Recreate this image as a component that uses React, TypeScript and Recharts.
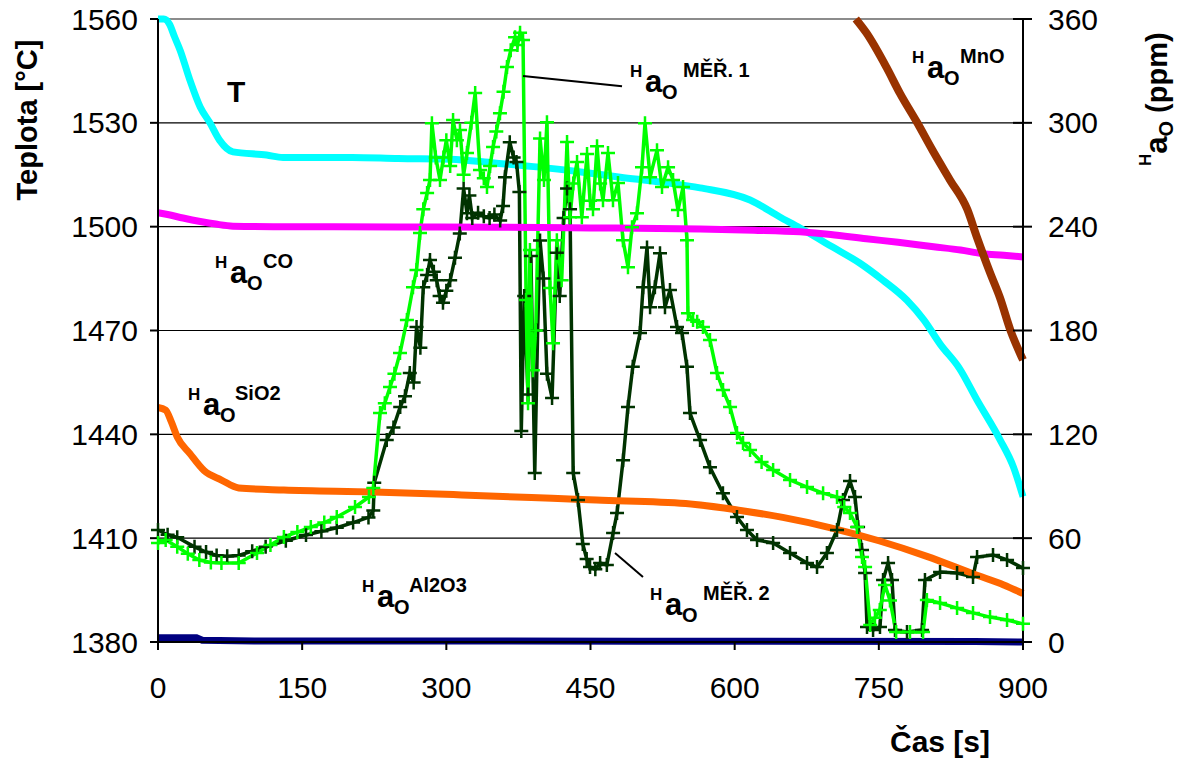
import React from 'react';
import { LineChart, Line, XAxis, YAxis, CartesianGrid, ReferenceLine } from 'recharts';

const FONT = '"Liberation Sans", Arial, Helvetica, sans-serif';

// time axis [s] and tick values
const timeTicks = [0, 150, 300, 450, 600, 750, 900];
const tempTicks = [1380, 1410, 1440, 1470, 1500, 1530, 1560];
const ppmTicks = [0, 60, 120, 180, 240, 300, 360];

// temperature T [°C] vs time [s]
const tempT: [number, number][] = [
  [0, 1560], [6, 1560], [12, 1558.5], [17, 1555], [23, 1551], [33, 1542.5], [44, 1534.5], [54, 1530],
  [64, 1525], [78, 1521.6], [113, 1520.7], [130, 1520], [165, 1520], [202, 1520], [250, 1519.7],
  [304, 1519.5], [350, 1518.4], [397, 1517.2], [440, 1515.8], [481, 1514.3], [525, 1512.8],
  [564, 1511.2], [616, 1507.7], [647, 1502.8], [668, 1499.6], [702, 1494.1], [730, 1489.5],
  [754, 1484.6], [779, 1478.8], [797, 1473], [814, 1466], [834, 1459], [852, 1450], [876, 1438.5],
  [890, 1430.6], [900, 1422],
];

// equilibrium oxygen activity [ppm] for the individual reactions
const aoCO: [number, number][] = [
  [0, 248], [10, 247], [26, 245], [44, 243], [60, 241.5], [78, 240.3], [120, 240], [165, 240],
  [250, 239.8], [350, 239.7], [450, 239.3], [564, 238.7], [620, 238], [668, 237], [700, 235.5],
  [737, 233], [770, 231], [807, 228.4], [835, 226.5], [858, 224.4], [880, 223.5], [900, 222.5],
];

const aoSiO2: [number, number][] = [
  [0, 135.5], [8, 134], [14, 127], [20, 118.5], [33, 109], [48, 99], [66, 93.6], [84, 89],
  [131, 87.8], [224, 86.7], [316, 85], [410, 83], [456, 82], [549, 80], [606, 76], [650, 72],
  [700, 66], [750, 58.5], [800, 49.5], [850, 39], [880, 33], [900, 28],
];

const aoAl2O3: [number, number][] = [
  [0, 2.5], [40, 2.5], [46, 1], [100, 0.6], [500, 0.5], [850, 0.3], [900, 0],
];

const aoMnO: [number, number][] = [
  [726, 360], [737, 352], [758, 332], [772, 317], [790, 300], [806, 284], [824, 267], [842, 250],
  [852, 234], [866, 213], [876, 199], [887, 180], [900, 163],
];

// measured oxygen activity, probe 1
const aoMer1: [number, number][] = [
  [0, 57.2], [8, 59], [20, 55], [31, 51], [43, 47.4], [55, 46], [66, 45.6], [84, 45.6], [103, 51.4],
  [117, 56], [131, 60.7], [145, 63.5], [159, 66.4], [173, 69], [186, 72.2], [205, 78], [219.5, 83.8],
  [224, 89], [231, 132.3], [236, 138], [241.4, 147.3], [246, 155], [251.8, 167], [259, 186],
  [265.3, 205], [269, 215], [272.6, 236.3], [276, 250], [280, 259.4], [283, 267], [285, 299.8],
  [289, 280], [293.4, 267], [297, 280], [300, 290], [304, 275], [307, 301.6], [311, 290],
  [314.2, 295.8], [318, 270], [321.5, 282.5], [326, 300], [330, 317.2], [335, 272.7], [339, 268],
  [342.3, 262.9], [345.5, 275], [348.6, 286], [352, 295], [355.8, 305.6], [359.5, 318], [363.1, 332.2],
  [367, 342], [371.5, 349.5], [374, 345], [376.7, 352], [379.8, 347.8], [383, 197.6], [385, 138],
  [387, 226.5], [390, 157], [393, 180], [397.5, 291], [401.6, 267], [404.7, 300.4], [407.9, 204.5],
  [411, 172.7], [415, 232.2], [420, 209], [425.6, 288.9], [428.7, 245.5], [432, 265], [436, 277.3],
  [441, 245.5], [446.4, 282], [449.5, 255], [452.6, 250], [456.8, 286.5], [460, 265], [463, 255.3],
  [468.2, 282.5], [473.4, 255.3], [478.6, 265.2], [483.8, 232.2], [489, 216.6], [493.2, 239.7],
  [498.4, 247.8], [503.6, 274.4], [506.7, 299.8], [512, 268.6], [519.2, 284.2], [524.4, 262.9],
  [530.7, 274.4], [535.9, 266.9], [541, 249.6], [546.3, 262.9], [550.4, 232.2], [551.4, 190],
  [556.7, 186], [561, 185], [567, 182], [574.3, 174.5], [581.6, 155.4], [587.9, 145.6],
  [595.2, 135.8], [602.4, 120.7], [608.7, 115], [616, 111], [628, 104], [640, 99.4], [657.6, 93.6],
  [675.3, 89.5], [692, 86], [706.5, 83.8], [714, 78], [720, 74.5], [727.3, 66.4], [732.5, 49.1],
  [735.7, 43.3], [741, 9.8], [746, 14], [751, 18.5], [756.4, 33], [761.6, 24], [768, 5.8],
  [782.4, 5.8], [796, 5.8], [800, 24.3], [813.7, 22.5], [831.4, 19.6], [848, 16.8], [865.7, 14.4],
  [883.4, 12.7], [900, 10.5],
];

// measured oxygen activity, probe 2
const aoMer2: [number, number][] = [
  [0, 64.7], [10, 62], [20, 60.5], [38, 55], [50, 52], [61, 50], [72, 49.5], [84, 50], [98, 52.5],
  [112, 55], [133, 58.5], [154, 61.8], [170, 64], [186, 66], [203, 69], [219, 72], [224, 76],
  [225, 92], [238, 116.7], [245, 124], [252, 135.8], [257, 142], [262, 155.4], [266, 150], [269, 182],
  [273, 170], [276, 205], [280, 212], [283, 220.7], [287, 214], [290, 209], [293, 200], [296.5, 196],
  [300, 203], [304, 209], [309, 222], [314, 236], [318, 262], [321.5, 247.8], [324, 258], [327, 245],
  [333, 248], [339, 246], [345, 245], [350, 247], [356, 243.5], [359, 252], [361, 268.6],
  [366, 288.8], [370, 280], [373, 277.3], [376, 260], [378, 121.9], [381, 200], [385, 143],
  [388, 223], [392, 97.6], [395, 180], [397.5, 232], [401, 210], [404.7, 155], [410, 141], [415, 225],
  [418, 200], [422, 245], [425.6, 262], [428.7, 250], [432, 97.6], [437, 82], [442, 56.6], [446, 48],
  [449.5, 43.3], [455, 42], [460, 45.6], [467, 44.5], [473.5, 63], [477.6, 74.5], [483.9, 105],
  [489, 135.8], [494, 159], [501.5, 178.5], [504.7, 205], [508.8, 228], [512, 193.5], [517, 205],
  [522.3, 224.7], [527.5, 193.5], [532.7, 203.4], [540, 182], [545.2, 178.5], [550.4, 159],
  [553.5, 132.3], [564, 116.7], [574.3, 101], [587.8, 86], [602.4, 72.2], [612.8, 64.7],
  [623.3, 58.9], [640, 57.2], [657.6, 51.4], [675.3, 45.6], [685.7, 43.3], [696, 51.4],
  [706.5, 64.7], [712.7, 82], [720, 93], [725.2, 83.8], [728.4, 66.4], [732.5, 53.1], [735.7, 39.9],
  [737.7, 8.7], [744, 6.9], [751.2, 8.7], [754.4, 35.8], [759.6, 45.6], [763.7, 35.8], [766.8, 6.9],
  [779.3, 5.8], [795, 6.9], [798, 35.8], [813.7, 40.4], [831.4, 39.9], [848, 37.6], [852.2, 49.1],
  [868.8, 50.3], [883.4, 47.4], [900, 42.7],
];

// leader lines from the curve labels to the curves [t, ppm]
const leader1: [number, number][] = [[379.8, 327], [482.8, 321.2]];
const leader2: [number, number][] = [[475.5, 51.4], [504.6, 37.6]];

const pts = (arr: [number, number][]) => arr.map(([t, v]) => ({ t, v }));
const seg = (arr: [number, number][]) => arr.map(([t, v]) => ({ x: t, y: v }));

const plusDot = (color: string) => (props: any) => {
  const { cx, cy, index } = props;
  if (cx == null || cy == null) return <g key={`p${index}`} />;
  return (
    <path
      key={`p${index}`}
      d={`M${cx - 7},${cy}H${cx + 7}M${cx},${cy - 7}V${cy + 7}`}
      stroke={color}
      strokeWidth={2.5}
      fill="none"
    />
  );
};

// right axis ticks cross the axis line
const RightTick = (props: any) => {
  const { x, y, payload } = props;
  return (
    <g>
      <line x1={x - 35} x2={x - 16} y1={y} y2={y} stroke="#000" strokeWidth={2} />
      <text x={x} y={y} dy="0.355em" textAnchor="start" fontSize={30} fontFamily={FONT} fill="#000">
        {payload.value}
      </text>
    </g>
  );
};

// "H a_O ^sup" curve label, (x, y) = left edge / baseline of the H
const Hao = ({ x, y, sup, supDx = 48 }: { x: number; y: number; sup: string; supDx?: number }) => (
  <g fontFamily={FONT} fontWeight="bold" fill="#000">
    <text x={x} y={y} fontSize={17}>H</text>
    <text x={x + 15} y={y + 15} fontSize={31}>a</text>
    <text x={x + 32} y={y + 22} fontSize={20}>O</text>
    <text x={x + supDx} y={y} fontSize={20}>{sup}</text>
  </g>
);

export default function App() {
  const tickStyle = { fontSize: 30, fill: '#000', fontFamily: FONT };
  return (
    <div style={{ position: 'absolute', left: 0, top: 0, width: 1182, height: 762, background: '#fff' }}>
      <LineChart width={1182} height={762} margin={{ top: 19, right: 0, bottom: 0, left: 0 }}>
        <CartesianGrid yAxisId="left" vertical={false} stroke="#000" strokeWidth={1.2} />
        <XAxis
          dataKey="t"
          type="number"
          domain={[0, 900]}
          ticks={timeTicks}
          height={120}
          tickSize={8}
          tickMargin={27}
          tick={tickStyle}
          axisLine={{ stroke: '#000', strokeWidth: 2 }}
          tickLine={{ stroke: '#000', strokeWidth: 2 }}
        />
        <YAxis
          yAxisId="left"
          type="number"
          domain={[1380, 1560]}
          ticks={tempTicks}
          width={158}
          tickSize={8}
          tickMargin={12}
          tick={tickStyle}
          axisLine={{ stroke: '#000', strokeWidth: 2 }}
          tickLine={{ stroke: '#000', strokeWidth: 2 }}
        />
        <YAxis
          yAxisId="right"
          orientation="right"
          type="number"
          domain={[0, 360]}
          ticks={ppmTicks}
          width={159}
          tickSize={8}
          tickMargin={17}
          tick={<RightTick />}
          tickLine={false}
          axisLine={{ stroke: '#000', strokeWidth: 2 }}
        />
        <ReferenceLine yAxisId="left" y={1560} stroke="#8c8c8c" strokeWidth={2} />

        <Line yAxisId="left" data={pts(tempT)} dataKey="v" type="monotone" stroke="#00FFFF" strokeWidth={7}
          dot={false} activeDot={false} isAnimationActive={false} />
        <Line yAxisId="right" data={pts(aoMer2)} dataKey="v" type="linear" stroke="#003300" strokeWidth={3.5}
          dot={plusDot('#003300')} activeDot={false} isAnimationActive={false} />
        <Line yAxisId="right" data={pts(aoMer1)} dataKey="v" type="linear" stroke="#00FF00" strokeWidth={3.5}
          dot={plusDot('#00FF00')} activeDot={false} isAnimationActive={false} />
        <Line yAxisId="right" data={pts(aoCO)} dataKey="v" type="monotone" stroke="#FF00FF" strokeWidth={7}
          dot={false} activeDot={false} isAnimationActive={false} />
        <Line yAxisId="right" data={pts(aoSiO2)} dataKey="v" type="monotone" stroke="#FF6600" strokeWidth={7}
          dot={false} activeDot={false} isAnimationActive={false} />
        <Line yAxisId="right" data={pts(aoAl2O3)} dataKey="v" type="linear" stroke="#000080" strokeWidth={7}
          dot={false} activeDot={false} isAnimationActive={false} />
        <Line yAxisId="right" data={pts(aoMnO)} dataKey="v" type="monotone" stroke="#993300" strokeWidth={8}
          dot={false} activeDot={false} isAnimationActive={false} />

        <ReferenceLine yAxisId="right" segment={seg(leader1)} stroke="#000" strokeWidth={2} />
        <ReferenceLine yAxisId="right" segment={seg(leader2)} stroke="#000" strokeWidth={2} />
      </LineChart>

      <svg width={1182} height={762} style={{ position: 'absolute', left: 0, top: 0, pointerEvents: 'none' }}>
        <text x={227} y={102} fontSize={30} fontWeight="bold" fontFamily={FONT}>T</text>
        <Hao x={215} y={268} sup="CO" />
        <Hao x={188} y={400} sup="SiO2" supDx={47} />
        <Hao x={362} y={592} sup="Al2O3" supDx={47} />
        <Hao x={630} y={77} sup="MĚŘ. 1" supDx={53} />
        <Hao x={650} y={600} sup="MĚŘ. 2" supDx={53} />
        <Hao x={912} y={63} sup="MnO" />

        <text transform="translate(37,120) rotate(-90)" textAnchor="middle" fontSize={29}
          fontWeight="bold" fontFamily={FONT}>Teplota [°C]</text>
        <text transform="translate(1167,166) rotate(-90)" fontWeight="bold" fontFamily={FONT}>
          <tspan fontSize={17} dy={-16}>H</tspan>
          <tspan fontSize={31} dy={16}>a</tspan>
          <tspan fontSize={20} dy={6}>O</tspan>
          <tspan fontSize={29} dy={-6} dx={8}>(ppm)</tspan>
        </text>
        <text x={890} y={752} fontSize={30} fontWeight="bold" fontFamily={FONT}>Čas [s]</text>
      </svg>
    </div>
  );
}
